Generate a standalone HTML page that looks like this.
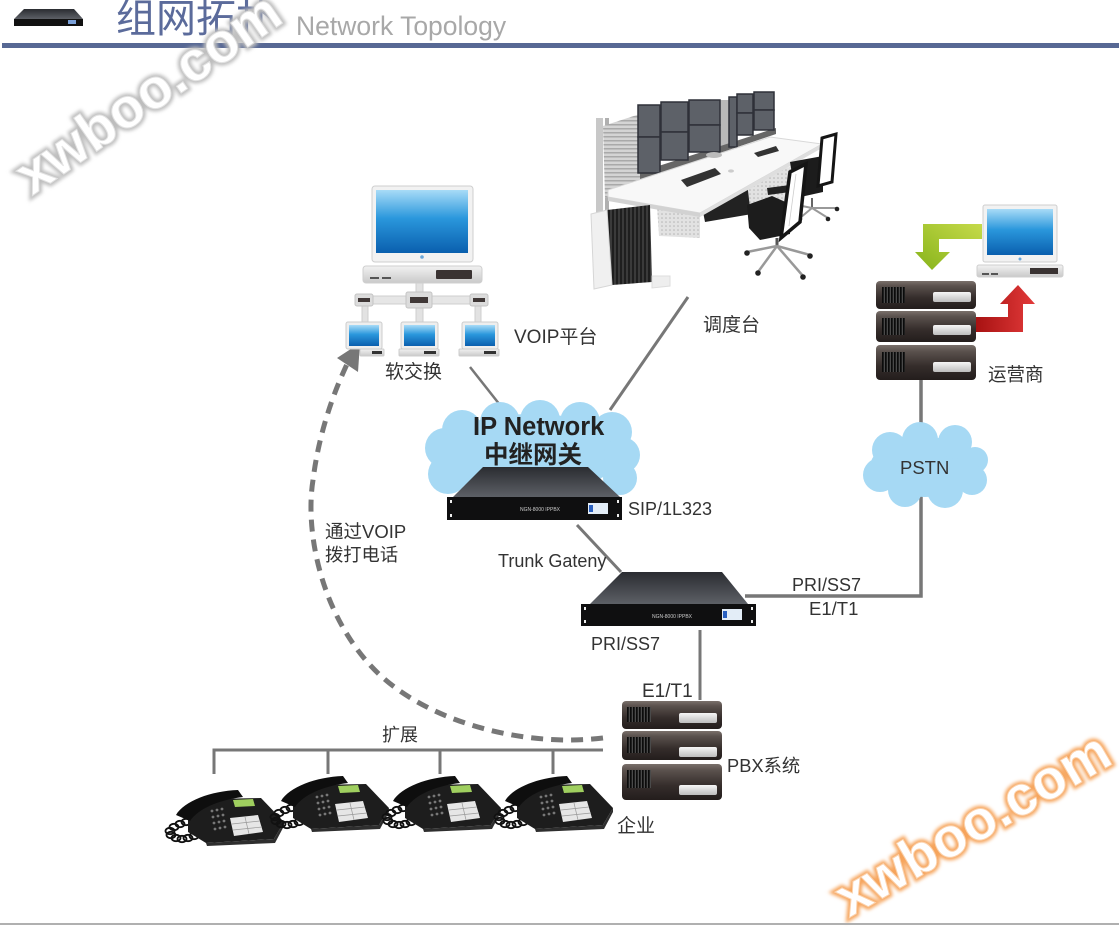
<!DOCTYPE html>
<html><head><meta charset="utf-8"><style>html,body{margin:0;padding:0;background:#fff}svg{display:block}</style></head>
<body>
<svg width="1119" height="927" viewBox="0 0 1119 927" xmlns="http://www.w3.org/2000/svg" xmlns:xlink="http://www.w3.org/1999/xlink" font-family="'Liberation Sans','Noto Sans CJK SC',sans-serif">
<defs>
  <linearGradient id="srv" x1="0" y1="0" x2="0" y2="1">
    <stop offset="0" stop-color="#7a706b"/><stop offset="0.18" stop-color="#5a514d"/>
    <stop offset="0.6" stop-color="#352d2b"/><stop offset="1" stop-color="#231d1c"/>
  </linearGradient>
  <linearGradient id="scr" x1="0" y1="0" x2="0" y2="1">
    <stop offset="0" stop-color="#a8dbf7"/><stop offset="0.45" stop-color="#2a97dc"/><stop offset="1" stop-color="#0a5fae"/>
  </linearGradient>
  <linearGradient id="slot" x1="0" y1="0" x2="0" y2="1">
    <stop offset="0" stop-color="#f6f6f6"/><stop offset="1" stop-color="#bdbdbd"/>
  </linearGradient>
  <linearGradient id="gtop" x1="0" y1="0" x2="0" y2="1">
    <stop offset="0" stop-color="#2a2c31"/><stop offset="1" stop-color="#5d6066"/>
  </linearGradient>
  <linearGradient id="base" x1="0" y1="0" x2="0" y2="1">
    <stop offset="0" stop-color="#f2f2f2"/><stop offset="1" stop-color="#c9c9c9"/>
  </linearGradient>
  <linearGradient id="grn" x1="1" y1="0" x2="0" y2="1">
    <stop offset="0" stop-color="#c6da4a"/><stop offset="1" stop-color="#86b31a"/>
  </linearGradient>
  <linearGradient id="red" x1="0" y1="0" x2="1" y2="0">
    <stop offset="0" stop-color="#a81212"/><stop offset="1" stop-color="#e23a3a"/>
  </linearGradient>
  <pattern id="grille" width="3" height="40" patternUnits="userSpaceOnUse">
    <rect width="3" height="40" fill="#4a4a4a"/><rect width="1.7" height="40" fill="#0b0b0b"/>
  </pattern>
  <pattern id="cab" width="4" height="40" patternUnits="userSpaceOnUse">
    <rect width="4" height="40" fill="#3a3a3a"/><rect width="2" height="40" fill="#1e1e1e"/>
  </pattern>
  <pattern id="hstripe" width="10" height="4" patternUnits="userSpaceOnUse">
    <rect width="10" height="4" fill="#d4d4d4"/><rect width="10" height="1.5" fill="#a9a9a9"/>
  </pattern>
  <pattern id="dots" width="4" height="4" patternUnits="userSpaceOnUse">
    <rect width="4" height="4" fill="#e2e2e2"/><circle cx="2" cy="2" r="0.8" fill="#b5b5b5"/>
  </pattern>
  <filter id="blur" x="-10%" y="-10%" width="120%" height="120%"><feGaussianBlur stdDeviation="1.8"/></filter>

  <g id="phone">
    <g fill="none" stroke="#111" stroke-width="1.8">
      <ellipse cx="20" cy="35" rx="4.5" ry="3.2"/><ellipse cx="14" cy="37" rx="4.5" ry="3.2"/>
      <ellipse cx="8" cy="40" rx="4.5" ry="3.2"/><ellipse cx="4" cy="44" rx="4.5" ry="3.2"/>
      <ellipse cx="5" cy="48" rx="4.5" ry="3.2"/><ellipse cx="10" cy="51" rx="4.5" ry="3.2"/>
      <ellipse cx="16" cy="52" rx="4.5" ry="3.2"/><ellipse cx="22" cy="51" rx="4.5" ry="3.2"/>
      <ellipse cx="28" cy="49" rx="4.5" ry="3.2"/>
    </g>
    <polygon points="22,26 45,12 95,11 118,35 108,52 40,56 22,45" fill="#1d1d1d"/>
    <polygon points="40,56 108,52 118,35 118,39 109,56 41,59" fill="#2e2e2e"/>
    <path d="M10,28 C18,14 45,4 72,3 L77,10 C52,13 32,22 24,34 Z" fill="#0e0e0e"/>
    <polygon points="67,13 87,12 89,19 69,20" fill="#9fcf5f"/>
    <polygon points="64,31 92,28 97,45 68,49" fill="#e6e6e6"/>
    <g stroke="#999" stroke-width="0.7"><line x1="66" y1="37" x2="94" y2="34"/><line x1="67" y1="43" x2="96" y2="40"/><line x1="79" y1="30" x2="83" y2="47"/></g>
    <g fill="#777">
      <circle cx="46" cy="24" r="1.4"/><circle cx="51" cy="23" r="1.4"/><circle cx="56" cy="22" r="1.4"/>
      <circle cx="47" cy="30" r="1.4"/><circle cx="52" cy="29" r="1.4"/><circle cx="57" cy="28" r="1.4"/>
      <circle cx="48" cy="36" r="1.4"/><circle cx="53" cy="35" r="1.4"/><circle cx="58" cy="34" r="1.4"/>
      <circle cx="49" cy="42" r="1.4"/><circle cx="54" cy="41" r="1.4"/><circle cx="59" cy="40" r="1.4"/>
    </g>
  </g>
</defs>

<!-- Header -->
<polygon points="24,9 74,9 83,19 14,19" fill="url(#gtop)"/>
<rect x="14" y="19" width="69" height="7" fill="#111"/>
<rect x="68" y="20" width="8" height="4" fill="#7aa0d8"/>
<text x="116" y="32" font-size="40" fill="#5b6b9b">组网拓扑</text>
<text x="296" y="35" font-size="26.5" fill="#a8a8a8">Network Topology</text>
<rect x="2" y="43" width="1117" height="5" fill="#576894"/>

<!-- Connector lines -->
<g stroke="#777" stroke-width="3" fill="none">
  <line x1="470" y1="367" x2="500" y2="405" stroke-width="2.5"/>
  <line x1="688" y1="297" x2="610" y2="410"/>
  <line x1="577" y1="525" x2="621" y2="572"/>
  <polyline points="745,596 921,596 921,380" stroke-width="3.5"/>
  <line x1="700" y1="630" x2="700" y2="700"/>
  <polyline points="603,750 214,750 214,774"/>
  <line x1="328" y1="750" x2="328" y2="774"/>
  <line x1="440" y1="750" x2="440" y2="774"/>
  <line x1="553" y1="750" x2="553" y2="774"/>
</g>

<!-- Dashed arc -->
<path d="M603,738 C520,748 420,720 370,665 C320,610 305,530 313,480 C318,440 330,400 348,362" fill="none" stroke="#777" stroke-width="5" stroke-dasharray="12 8"/>
<polygon points="337,358 360,343 358,372" fill="#777"/>

<!-- Soft switch main computer -->
<rect x="372" y="186" width="101" height="76" rx="3" fill="#f2f2f2" stroke="#cfcfcf"/>
<rect x="376" y="190" width="92" height="63" fill="url(#scr)"/>
<circle cx="422" cy="257" r="1.8" fill="#6aa6d8"/>
<rect x="363" y="266" width="119" height="17" rx="3" fill="url(#base)" stroke="#cfcfcf"/>
<rect x="436" y="270" width="36" height="9" rx="1" fill="#3a3332"/>
<rect x="370" y="277" width="9" height="2" fill="#555"/><rect x="382" y="277" width="9" height="2" fill="#555"/>
<!-- tree -->
<rect x="416" y="283" width="7" height="12" fill="#e2e2e2" stroke="#cfcfcf"/>
<rect x="355" y="296" width="133" height="8" fill="#e6e6e6" stroke="#cfcfcf"/>
<rect x="362" y="304" width="6" height="20" fill="#e2e2e2" stroke="#cfcfcf"/>
<rect x="416" y="307" width="7" height="17" fill="#e2e2e2" stroke="#cfcfcf"/>
<rect x="475" y="304" width="6" height="20" fill="#e2e2e2" stroke="#cfcfcf"/>
<rect x="406" y="292" width="26" height="16" rx="2" fill="#dcdcdc" stroke="#c4c4c4"/>
<rect x="410" y="297" width="18" height="6" fill="#403837"/>
<rect x="355" y="294" width="18" height="12" rx="2" fill="#dcdcdc" stroke="#c4c4c4"/>
<rect x="358" y="298" width="12" height="4" fill="#403837"/>
<rect x="470" y="294" width="18" height="12" rx="2" fill="#dcdcdc" stroke="#c4c4c4"/>
<rect x="473" y="298" width="12" height="4" fill="#403837"/>
<!-- small computers -->
<g>
  <rect x="346" y="322" width="36" height="27" rx="2" fill="#eee" stroke="#ccc"/>
  <rect x="349" y="325" width="30" height="21" fill="url(#scr)"/>
  <rect x="360" y="349" width="24" height="7" rx="1" fill="url(#base)" stroke="#ccc"/>
  <rect x="372" y="351" width="10" height="3" fill="#333"/>
  <rect x="401" y="322" width="37" height="27" rx="2" fill="#eee" stroke="#ccc"/>
  <rect x="404" y="325" width="31" height="21" fill="url(#scr)"/>
  <rect x="399" y="349" width="40" height="7" rx="1" fill="url(#base)" stroke="#ccc"/>
  <rect x="424" y="351" width="12" height="3" fill="#333"/>
  <rect x="462" y="322" width="36" height="27" rx="2" fill="#eee" stroke="#ccc"/>
  <rect x="465" y="325" width="30" height="21" fill="url(#scr)"/>
  <rect x="459" y="349" width="40" height="7" rx="1" fill="url(#base)" stroke="#ccc"/>
  <rect x="484" y="351" width="12" height="3" fill="#333"/>
</g>

<!-- Dispatch desk -->
<g>
  <rect x="596" y="118" width="7" height="100" fill="#c8c8c8"/>
  <rect x="605" y="118" width="4" height="95" fill="#b0b0b0"/>
  <polygon points="603,126 646,112 646,188 605,198" fill="url(#hstripe)"/>
  <rect x="720" y="100" width="9" height="52" fill="#b8b8b8"/>
  <polygon points="640,172 776,128 776,134 640,180" fill="#666"/>
  <g fill="#5d6168" stroke="#2e3138" stroke-width="1.5">
    <rect x="638" y="105" width="22" height="32"/><rect x="638" y="137" width="22" height="36"/>
    <rect x="661" y="102" width="27" height="30"/><rect x="661" y="132" width="27" height="28"/>
    <rect x="689" y="100" width="31" height="25"/><rect x="689" y="125" width="31" height="27"/>
    <rect x="729" y="97" width="8" height="50"/>
    <rect x="737" y="94" width="16" height="19"/><rect x="737" y="113" width="16" height="22"/>
    <rect x="754" y="92" width="20" height="18"/><rect x="754" y="110" width="20" height="20"/>
  </g>
  <!-- under-desk pieces -->
  <polygon points="700,196 752,178 752,214 705,222" fill="#222"/>
  <polygon points="657,206 700,214 700,238 659,236" fill="url(#dots)"/>
  <polygon points="747,182 792,166 792,200 750,208" fill="url(#dots)"/>
  <!-- desk top -->
  <polygon points="608,190 770,137 822,144 700,213 608,197" fill="#f8f8f8" stroke="#d8d8d8"/>
  <polygon points="608,197 700,213 700,217 608,201" fill="#d2d2d2"/>
  <polygon points="700,213 822,144 822,148 700,217" fill="#dedede"/>
  <polygon points="681,180 715,168 721,174 687,187" fill="#333"/>
  <polygon points="754,153 776,146 779,151 758,157" fill="#333"/>
  <ellipse cx="714" cy="155" rx="8" ry="3" fill="#bbb"/>
  <ellipse cx="731" cy="171" rx="3" ry="1.6" fill="#ccc"/>
  <!-- cabinet -->
  <polygon points="607,210 650,205 652,282 612,285" fill="url(#cab)"/>
  <polygon points="591,214 607,210 612,285 594,289" fill="#f0f0f0" stroke="#d6d6d6"/>
  <polygon points="652,276 670,276 670,286 652,288" fill="#eee" stroke="#ddd"/>
  <!-- chair back (rear) -->
  <polygon points="790,162 823,156 823,192 796,198" fill="#1c1c1c"/>
  <polygon points="822,138 836,134 832,182 818,186" fill="#fff" stroke="#151515" stroke-width="3"/>
  <line x1="812" y1="198" x2="812" y2="208" stroke="#666" stroke-width="2"/>
  <g stroke="#999" stroke-width="2"><line x1="812" y1="208" x2="797" y2="205"/><line x1="812" y1="208" x2="800" y2="218"/><line x1="812" y1="208" x2="828" y2="218"/><line x1="812" y1="208" x2="837" y2="208"/></g>
  <g fill="#222"><circle cx="797" cy="206" r="2.3"/><circle cx="800" cy="219" r="2.3"/><circle cx="828" cy="219" r="2.3"/><circle cx="837" cy="209" r="2.3"/></g>
  <!-- chair front -->
  <polygon points="747,205 772,196 790,204 790,234 760,240 749,228" fill="#1c1c1c"/>
  <polygon points="767,188 790,185 790,192 768,195" fill="#222"/>
  <polygon points="790,172 806,164 800,222 781,238" fill="#fff" stroke="#151515" stroke-width="3.5"/>
  <g stroke="#ccc" stroke-width="0.8"><line x1="796" y1="174" x2="789" y2="226"/></g>
  <line x1="777" y1="238" x2="777" y2="246" stroke="#555" stroke-width="3"/>
  <g stroke="#999" stroke-width="2.5"><line x1="777" y1="246" x2="747" y2="252"/><line x1="777" y1="246" x2="758" y2="272"/><line x1="777" y1="246" x2="803" y2="276"/><line x1="777" y1="246" x2="810" y2="255"/></g>
  <g fill="#222"><circle cx="747" cy="253" r="2.8"/><circle cx="758" cy="273" r="2.8"/><circle cx="803" cy="277" r="2.8"/><circle cx="810" cy="256" r="2.8"/></g>
</g>

<!-- Carrier (运营商) -->
<rect x="983" y="205" width="74" height="57" rx="2" fill="#f2f2f2" stroke="#cfcfcf"/>
<rect x="987" y="209" width="66" height="46" fill="url(#scr)"/>
<circle cx="1020" cy="259" r="1.5" fill="#6aa6d8"/>
<rect x="977" y="265" width="86" height="12" rx="2" fill="url(#base)" stroke="#cfcfcf"/>
<rect x="1030" y="268" width="28" height="6" fill="#3a3332"/>
<rect x="982" y="273" width="7" height="2" fill="#555"/><rect x="991" y="273" width="7" height="2" fill="#555"/>
<polygon points="982,224 923,224 923,252 915,252 932,270 950,252 939,252 939,239 982,239" fill="url(#grn)"/>
<g>
  <rect x="876" y="281" width="100" height="28" rx="4" fill="url(#srv)"/>
  <rect x="882" y="287" width="23" height="16" fill="url(#grille)"/>
  <rect x="933" y="292" width="38" height="10" rx="2" fill="url(#slot)"/>
  <rect x="876" y="311" width="100" height="31" rx="4" fill="url(#srv)"/>
  <rect x="882" y="318" width="23" height="17" fill="url(#grille)"/>
  <rect x="933" y="325" width="38" height="10" rx="2" fill="url(#slot)"/>
  <rect x="876" y="345" width="100" height="35" rx="4" fill="url(#srv)"/>
  <rect x="882" y="352" width="23" height="20" fill="url(#grille)"/>
  <rect x="933" y="362" width="38" height="10" rx="2" fill="url(#slot)"/>
</g>
<polygon points="976,317 1008,317 1008,304 1000,304 1018,285 1035,304 1023,304 1023,332 976,332" fill="url(#red)"/>

<!-- Clouds -->
<g fill="#a6d9f4">
  <ellipse cx="532" cy="452" rx="95" ry="38"/>
  <circle cx="462" cy="430" r="20"/><circle cx="500" cy="422" r="20"/><circle cx="540" cy="420" r="20"/>
  <circle cx="580" cy="422" r="20"/><circle cx="612" cy="432" r="20"/>
  <circle cx="445" cy="448" r="20"/><circle cx="448" cy="474" r="20"/>
  <circle cx="622" cy="455" r="18"/><circle cx="620" cy="478" r="17"/>
  <circle cx="480" cy="482" r="16"/><circle cx="585" cy="482" r="16"/>
</g>
<g fill="#a6d9f4">
  <ellipse cx="925" cy="467" rx="55" ry="30"/>
  <circle cx="890" cy="450" r="18"/><circle cx="920" cy="440" r="18"/><circle cx="955" cy="442" r="17"/>
  <circle cx="975" cy="460" r="13"/><circle cx="880" cy="475" r="17"/><circle cx="905" cy="490" r="17"/>
  <circle cx="945" cy="490" r="18"/><circle cx="972" cy="480" r="15"/>
</g>

<!-- Gateway 1 -->
<polygon points="483,467 588,467 620,497 453,497" fill="url(#gtop)"/>
<rect x="447" y="497" width="175" height="23" fill="#0f0f10"/>
<g fill="#eee"><rect x="450" y="500" width="2" height="3"/><rect x="450" y="514" width="2" height="3"/><rect x="617" y="500" width="2" height="3"/><rect x="617" y="514" width="2" height="3"/></g>
<text x="520" y="511" font-size="5" fill="#ccc">NGN-8000 IPPBX</text>
<rect x="588" y="503" width="20" height="11" fill="#e3edf7"/><rect x="589" y="505" width="4" height="7" fill="#2a60c0"/>

<!-- Gateway 2 -->
<polygon points="622,572 722,572 748,604 590,604" fill="url(#gtop)"/>
<rect x="581" y="604" width="175" height="22" fill="#0f0f10"/>
<g fill="#eee"><rect x="584" y="607" width="2" height="3"/><rect x="584" y="620" width="2" height="3"/><rect x="751" y="607" width="2" height="3"/><rect x="751" y="620" width="2" height="3"/></g>
<text x="652" y="618" font-size="5" fill="#ccc">NGN-8000 IPPBX</text>
<rect x="722" y="609" width="20" height="11" fill="#e3edf7"/><rect x="723" y="611" width="4" height="7" fill="#2a60c0"/>

<!-- PBX stack -->
<g>
  <rect x="622" y="701" width="100" height="28" rx="4" fill="url(#srv)"/>
  <rect x="627" y="707" width="24" height="15" fill="url(#grille)"/>
  <rect x="679" y="713" width="38" height="10" rx="2" fill="url(#slot)"/>
  <rect x="622" y="731" width="100" height="29" rx="4" fill="url(#srv)"/>
  <rect x="627" y="737" width="24" height="16" fill="url(#grille)"/>
  <rect x="679" y="747" width="38" height="10" rx="2" fill="url(#slot)"/>
  <rect x="622" y="764" width="100" height="36" rx="4" fill="url(#srv)"/>
  <rect x="627" y="770" width="24" height="18" fill="url(#grille)"/>
  <rect x="679" y="785" width="38" height="10" rx="2" fill="url(#slot)"/>
</g>

<!-- Phones -->
<use xlink:href="#phone" href="#phone" x="166" y="787"/>
<use xlink:href="#phone" href="#phone" x="271" y="773"/>
<use xlink:href="#phone" href="#phone" x="383" y="773"/>
<use xlink:href="#phone" href="#phone" x="495" y="773"/>

<!-- Labels -->
<g fill="#333">
  <text x="514" y="343" font-size="19">VOIP平台</text>
  <text x="385" y="378" font-size="19">软交换</text>
  <text x="703" y="331" font-size="19">调度台</text>
  <text x="988" y="381" font-size="18.5">运营商</text>
  <text x="628" y="515" font-size="18">SIP/1L323</text>
  <text x="498" y="567" font-size="18">Trunk Gateny</text>
  <text x="792" y="591" font-size="18">PRI/SS7</text>
  <text x="809" y="615" font-size="18.5">E1/T1</text>
  <text x="591" y="650" font-size="18">PRI/SS7</text>
  <text x="642" y="697" font-size="19">E1/T1</text>
  <text x="900" y="474" font-size="18.5">PSTN</text>
  <text x="727" y="772" font-size="18.3">PBX系统</text>
  <text x="617" y="832" font-size="19">企业</text>
  <text x="382" y="741" font-size="18">扩展</text>
  <text x="325" y="538" font-size="18.5">通过VOIP</text>
  <text x="325" y="561" font-size="18.3">拨打电话</text>
</g>
<g fill="#222" font-weight="bold">
  <text x="473" y="435" font-size="25.5">IP Network</text>
  <text x="484" y="463" font-size="24.5">中继网关</text>
</g>

<!-- Watermarks -->
<g font-family="'Liberation Sans',sans-serif" font-weight="bold" font-size="56">
  <text x="32" y="196" transform="rotate(-34.6 32 196)" fill="none" stroke="#bdbdbd" stroke-width="6" filter="url(#blur)">xwboo.com</text>
  <text x="32" y="196" transform="rotate(-34.6 32 196)" fill="#fff" stroke="#e2e2e2" stroke-width="1">xwboo.com</text>
  <text x="849" y="918" transform="rotate(-30.3 849 918)" fill="none" stroke="#f6a45c" stroke-width="6" filter="url(#blur)">xwboo.com</text>
  <text x="849" y="918" transform="rotate(-30.3 849 918)" fill="#fff" stroke="#fbd2ad" stroke-width="1">xwboo.com</text>
</g>

<rect x="0" y="923" width="1119" height="2" fill="#b0b0b0"/>
</svg>
</body></html>
